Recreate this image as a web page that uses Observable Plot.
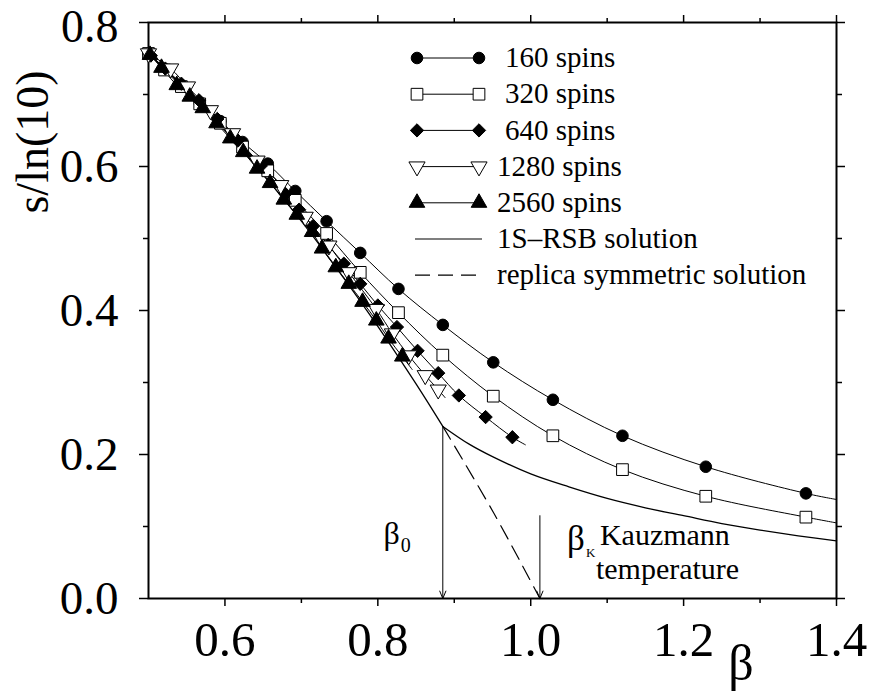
<!DOCTYPE html>
<html><head><meta charset="utf-8">
<script src="https://cdn.jsdelivr.net/npm/d3@7"></script>
<script src="https://cdn.jsdelivr.net/npm/@observablehq/plot@0.6"></script>
<style>
html,body{margin:0;padding:0;background:#fff;}
#chart{position:relative;width:872px;height:691px;}
</style></head><body><div id="chart"></div>
<script>
// ---- data ----
const seriesNames = ["160 spins", "320 spins", "640 spins", "1280 spins", "2560 spins"];
const lineNames = ["1S\u2013RSB solution", "replica symmetric solution"];
const xTitle = "\u03b2";
const yTitle = "s/ln(10)";

const beta160 = [0.500,0.521,0.543,0.567,0.594,0.623,0.656,0.692,0.733,0.777,0.827,0.885,0.951,1.029,1.120,1.229,1.360];
const s160    = [0.757,0.735,0.713,0.689,0.663,0.634,0.604,0.566,0.524,0.480,0.430,0.380,0.328,0.276,0.226,0.183,0.146];
const fit160End = [1.400, 0.1375];

const beta320 = [0.500,0.521,0.543,0.567,0.594,0.623,0.656,0.692,0.733,0.777,0.827,0.885,0.951,1.029,1.120,1.229,1.360];
const s320    = [0.757,0.734,0.711,0.687,0.660,0.627,0.594,0.553,0.507,0.453,0.397,0.338,0.281,0.226,0.179,0.142,0.113];
const fit320End = [1.400, 0.105];

const beta640 = [0.503,0.522,0.543,0.566,0.590,0.617,0.647,0.679,0.697,0.715,0.735,0.7555,0.777,0.800,0.825,0.852,0.879,0.906,0.941,0.976];
const s640    = [0.754,0.736,0.715,0.692,0.666,0.636,0.601,0.562,0.540,0.517,0.491,0.465,0.437,0.407,0.377,0.344,0.313,0.282,0.252,0.224];
const fit640End = [0.993, 0.2135];

const beta1280 = [0.500,0.529,0.551,0.581,0.610,0.642,0.673,0.705,0.736,0.762,0.798,0.819,0.8405,0.862,0.879];
const s1280    = [0.757,0.736,0.711,0.678,0.646,0.608,0.574,0.530,0.490,0.453,0.402,0.368,0.3375,0.310,0.290];
const fit1280End = [0.888, 0.279];

const beta2560 = [0.502,0.517,0.537,0.554,0.571,0.589,0.607,0.624,0.642,0.659,0.677,0.694,0.714,0.727,0.745,0.762,0.780,0.798,0.814,0.832];
const s2560    = [0.755,0.737,0.713,0.697,0.681,0.660,0.639,0.620,0.597,0.577,0.554,0.533,0.509,0.486,0.460,0.437,0.412,0.386,0.361,0.336];
const fit2560End = [0.845, 0.318];

// 1S-RSB solution (coincides with RS above beta0)
const rsbHighBeta = [0.500,0.550,0.600,0.650,0.700,0.750,0.800,0.850,0.885];
const rsbHighS    = [0.757,0.706,0.650,0.589,0.524,0.453,0.378,0.298,0.239];
const rsbLowBeta  = [0.885,0.920,0.950,1.000,1.050,1.100,1.150,1.200,1.250,1.300,1.350,1.400];
const rsbLowS     = [0.239,0.214,0.197,0.173,0.155,0.139,0.126,0.115,0.104,0.095,0.087,0.080];
// replica symmetric continuation (dashed)
const rsDashBeta = [0.885,0.952,1.012];
const rsDashS    = [0.239,0.118,0.000];

// annotations
const beta0 = 0.885, betaK = 1.012;
const arrowTops = [0.239, 0.115];

// axis ticks
const xMajorTicks = [0.6,0.8,1.0,1.2,1.4];
const xMinorTicks = [0.7,0.9,1.1,1.3];
const yMajorTicks = [0.0,0.2,0.4,0.6,0.8];
const yMinorTicks = [0.1,0.3,0.5,0.7];

// ---- build ----
const zip = (b, s) => b.map((x, i) => ({x, y: s[i]}));
const withEnd = (rows, e) => rows.concat([{x: e[0], y: e[1]}]);

const d160 = zip(beta160, s160), d320 = zip(beta320, s320), d640 = zip(beta640, s640),
      d1280 = zip(beta1280, s1280), d2560 = zip(beta2560, s2560);

const triangleDown = {
  draw(context, size) {
    const sqrt3 = Math.sqrt(3);
    const y = -Math.sqrt(size / (sqrt3 * 3));
    context.moveTo(0, -y * 2);
    context.lineTo(-sqrt3 * y, y);
    context.lineTo(sqrt3 * y, y);
    context.closePath();
  }
};

const styles = [
  {symbol: "circle", r: 5.8, fill: "black", stroke: "black"},
  {symbol: "square", r: 6.6, fill: "white", stroke: "black"},
  {symbol: "diamond2", r: 6.0, fill: "black", stroke: "black"},
  {symbol: triangleDown, r: 6.0, fill: "white", stroke: "black"},
  {symbol: "triangle", r: 5.8, fill: "black", stroke: "black"}
];
const dataSets = [d160, d320, d640, d1280, d2560];
const fitEnds = [fit160End, fit320End, fit640End, fit1280End, fit2560End];

const lineMarks = dataSets.map((d, i) => Plot.line(withEnd(d, fitEnds[i]), {
  x: "x", y: "y", curve: "catmull-rom", stroke: "black", strokeWidth: 1
}));
const dotMarks = dataSets.map((d, i) => Plot.dot(d, {
  x: "x", y: "y", symbol: styles[i].symbol, r: styles[i].r,
  fill: styles[i].fill, stroke: styles[i].stroke, strokeWidth: 1
}));

const serif = "'Liberation Serif','Times New Roman',Times,serif";
const blank = () => "";
const fmt = d3.format(".1f");
const yLabelTicks = yMajorTicks.slice(0, -1);
const yTopLabel = yMajorTicks.slice(-1);

const chart = Plot.plot({
  width: 872, height: 691,
  marginLeft: 148, marginRight: 36, marginTop: 22, marginBottom: 93,
  x: {domain: [0.5, 1.4], label: null},
  y: {domain: [0, 0.8], label: null},
  style: {fontFamily: serif, background: "white", color: "black", overflow: "visible"},
  marks: [
    // axes
    Plot.axisX({ticks: xMajorTicks, tickSize: 8, tickPadding: 15, fontSize: 49, tickFormat: fmt, strokeWidth: 1.5, label: null}),
    Plot.axisX({ticks: xMinorTicks, tickSize: 5, tickFormat: blank, strokeWidth: 1.5, label: null}),
    Plot.axisX({anchor: "top", ticks: xMajorTicks, tickSize: 8, tickFormat: blank, strokeWidth: 1.5, label: null}),
    Plot.axisX({anchor: "top", ticks: xMinorTicks, tickSize: 5, tickFormat: blank, strokeWidth: 1.5, label: null}),
    Plot.axisY({ticks: yMajorTicks, tickSize: 9, tickFormat: blank, strokeWidth: 1.5, label: null}),
    Plot.axisY({ticks: yLabelTicks, tickSize: 0, tickPadding: 30, fontSize: 47, tickFormat: fmt, label: null}),
    Plot.axisY({ticks: yTopLabel, tickSize: 0, tickPadding: 30, fontSize: 46, dy: 5, tickFormat: fmt, label: null}),
    Plot.axisY({ticks: yMinorTicks, tickSize: 5, tickFormat: blank, strokeWidth: 1.5, label: null}),
    Plot.axisY({anchor: "right", ticks: yMajorTicks, tickSize: 8, tickFormat: blank, strokeWidth: 1.5, label: null}),
    Plot.axisY({anchor: "right", ticks: yMinorTicks, tickSize: 5, tickFormat: blank, strokeWidth: 1.5, label: null}),
    Plot.frame({stroke: "black", strokeWidth: 2}),
    // theory curves
    Plot.line(zip(rsbHighBeta, rsbHighS), {x: "x", y: "y", curve: "catmull-rom", stroke: "black", strokeWidth: 1.3}),
    Plot.line(zip(rsbLowBeta, rsbLowS), {x: "x", y: "y", curve: "catmull-rom", stroke: "black", strokeWidth: 1.3}),
    Plot.line(zip(rsDashBeta, rsDashS), {x: "x", y: "y", curve: "catmull-rom", stroke: "black", strokeWidth: 1.2, strokeDasharray: "15,8"}),
    // data
    ...lineMarks,
    ...dotMarks,
    // arrows
    Plot.arrow([beta0, betaK].map((b, i) => ({x: b, top: arrowTops[i], bottom: 0})), {
      x1: "x", y1: "top", x2: "x", y2: "bottom", stroke: "black", strokeWidth: 1, headLength: 12, headAngle: 45
    }),
    // annotation text
    Plot.text([{x: beta0, y: 0.0905}], {x: "x", y: "y", text: () => "\u03b2", dx: -43, textAnchor: "end", fontSize: 32, fill: "black"}),
    Plot.text([{x: beta0, y: 0.073}], {x: "x", y: "y", text: () => "0", dx: -42, textAnchor: "start", fontSize: 20, fill: "black"}),
    Plot.text([{x: betaK, y: 0.083}], {x: "x", y: "y", text: () => "\u03b2", dx: 45, textAnchor: "end", fontSize: 35, fill: "black"}),
    Plot.text([{x: betaK, y: 0.0636}], {x: "x", y: "y", text: () => "K", dx: 46, textAnchor: "start", fontSize: 13, fill: "black"}),
    Plot.text([{x: betaK, y: 0.087}], {x: "x", y: "y", text: () => "Kauzmann", dx: 60, textAnchor: "start", fontSize: 30, fill: "black"}),
    Plot.text([{x: betaK, y: 0.040}], {x: "x", y: "y", text: () => "temperature", dx: 56, textAnchor: "start", fontSize: 30, fill: "black"})
  ]
});

const svg = d3.select(chart);

// ---- axis titles ----
svg.append("text")
  .attr("transform", "translate(37,142) rotate(-90)")
  .attr("text-anchor", "middle").attr("dy", "0.24em")
  .attr("font-family", serif).attr("font-size", 46).attr("fill", "black")
  .text(yTitle);
svg.append("text")
  .attr("x", 741).attr("y", 680)
  .attr("text-anchor", "middle")
  .attr("font-family", serif).attr("font-size", 50).attr("fill", "black")
  .text(xTitle);

// ---- legend (inside the frame, top right) ----
const lg = svg.append("g").attr("class", "legend");
const rowY = i => 58 + 36.2 * i;
const lx1 = 417, lx2 = 479, tx = 497;
const symTypes = {circle: d3.symbolCircle, square: d3.symbolSquare, diamond2: d3.symbolDiamond2, triangle: d3.symbolTriangle};
seriesNames.forEach((name, i) => {
  const y = rowY(i);
  lg.append("line").attr("x1", lx1).attr("x2", lx2).attr("y1", y).attr("y2", y).attr("stroke", "black").attr("stroke-width", 1);
  const st = styles[i];
  const sym = typeof st.symbol === "string" ? symTypes[st.symbol] : st.symbol;
  const path = d3.symbol(sym, Math.PI * st.r * st.r)();
  [lx1, lx2].forEach(x => lg.append("path").attr("d", path).attr("transform", `translate(${x},${y})`)
    .attr("fill", st.fill).attr("stroke", st.stroke).attr("stroke-width", 1));
  lg.append("text").attr("x", name.length < 10 ? tx + 8 : tx).attr("y", y).attr("dy", "0.32em")
    .attr("text-anchor", "start").attr("font-family", serif).attr("font-size", 29).attr("fill", "black")
    .text(name);
});
lineNames.forEach((name, j) => {
  const y = rowY(5 + j);
  const ln = lg.append("line").attr("x1", 415).attr("x2", 482).attr("y1", y).attr("y2", y).attr("stroke", "black").attr("stroke-width", 1.2);
  if (j === 1) ln.attr("stroke-dasharray", "15,8");
  lg.append("text").attr("x", tx).attr("y", y).attr("dy", "0.32em")
    .attr("text-anchor", "start").attr("font-family", serif).attr("font-size", 29).attr("fill", "black")
    .text(name);
});

document.getElementById("chart").appendChild(chart);
</script></body></html>
